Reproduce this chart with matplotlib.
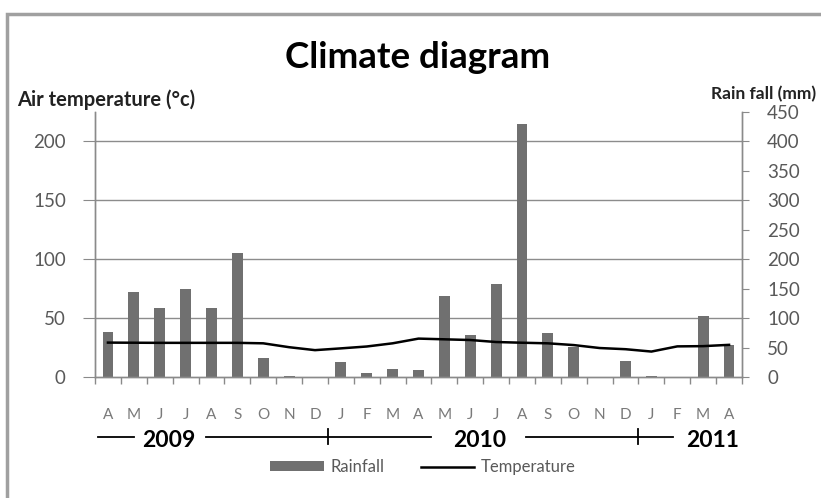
import matplotlib
matplotlib.use("Agg")
import matplotlib.pyplot as plt
from matplotlib import font_manager
from matplotlib.transforms import blended_transform_factory
from matplotlib.patches import Rectangle

def pick(cands):
    names = {f.name for f in font_manager.fontManager.ttflist}
    for c in cands:
        if c in names:
            return c
    return "DejaVu Sans"

FONT = pick(["Lato", "Open Sans", "Noto Sans", "DejaVu Sans"])
plt.rcParams['font.family'] = [FONT, 'DejaVu Sans']

months = ["A", "M", "J", "J", "A", "S", "O", "N", "D", "J", "F", "M", "A",
          "M", "J", "J", "A", "S", "O", "N", "D", "J", "F", "M", "A"]
years = ["2009", "2010", "2011"]
rainfall_mm = [77, 144, 118, 149, 118, 210, 33, 1, 0, 26, 6, 13, 12,
               137, 72, 158, 430, 75, 51, 0, 28, 2, 0, 103, 55]
temperature_c = [29.2, 29.1, 29.0, 29.0, 29.0, 29.0, 28.6, 25.3, 22.8, 24.3, 25.9, 28.6, 32.6,
                 32.0, 31.4, 29.7, 29.1, 28.6, 27.1, 24.6, 23.6, 21.6, 26.0, 26.2, 27.3]

GRAY_TXT = "#595959"
MONTH_TXT = "#7a7a7a"
AX_GRAY = "#8a8a8a"

fig = plt.figure(figsize=(8.21, 4.98), dpi=100)
ax = fig.add_axes([95/821, 1-377/498, (742-95)/821, (377-112)/498])
ax2 = ax.twinx()

x = list(range(len(months)))
ax2.bar(x, rainfall_mm, width=0.42, color="#707070", zorder=2, label="Rainfall")
ax.plot(x, temperature_c, color="black", lw=1.8, zorder=5, label="Temperature")
ax.set_zorder(ax2.get_zorder() + 1)
ax.patch.set_visible(False)

ax.set_xlim(-0.5, len(months) - 0.5)
ax.set_ylim(0, 225)
ax2.set_ylim(0, 450)
ax.set_yticks([0, 50, 100, 150, 200])
ax2.set_yticks(range(0, 451, 50))
for v in [50, 100, 150, 200]:
    ax2.axhline(v * 2, color="#8c8c8c", lw=1, zorder=1)

ax.set_xticks(x)
ax.set_xticklabels(months)
ax.set_xticks([i + 0.5 for i in range(-1, len(months))], minor=True)
ax.tick_params(axis="x", which="major", length=0, pad=22, labelsize=11, labelcolor=MONTH_TXT)
ax.tick_params(axis="x", which="minor", length=5, color=AX_GRAY, width=1)
ax.tick_params(axis="y", length=9, color=AX_GRAY, labelsize=13.5, labelcolor=GRAY_TXT, pad=12)
ax2.tick_params(axis="y", length=5, color=AX_GRAY, labelsize=13.5, labelcolor=GRAY_TXT, pad=13)
ax2.tick_params(axis="x", length=0)

for a in (ax, ax2):
    a.spines["top"].set_visible(False)
    for s in ["left", "right", "bottom"]:
        a.spines[s].set_color(AX_GRAY)
        a.spines[s].set_linewidth(1)

# year annotation row
tr = blended_transform_factory(ax.transData, fig.transFigure)
yy = 1 - 437/498
for (x0, x1) in [(-0.38, 1.0), (3.79, 12.5), (16.14, 21.85)]:
    ax.plot([x0, x1], [yy, yy], color="black", lw=1.3, transform=tr, clip_on=False)
for xt in [8.5, 20.5]:
    ax.plot([xt, xt], [yy - 7/498, yy + 8/498], color="black", lw=1.3, transform=tr, clip_on=False)
for yr, xc in zip(years, [2.36, 14.36, 23.36]):
    ax.text(xc, 1 - 440/498, yr, transform=tr, ha="center", va="center", fontsize=16.5,
            fontweight="bold", color="black")

# titles
fig.text(418/821, 1-58/498, "Climate diagram", ha="center", va="center",
         fontsize=26.5, fontweight="bold", color="black")
fig.text(17/821, 1-100/498, "Air temperature (°c)", ha="left", va="center",
         fontsize=14.5, fontweight="bold", color="#222222")
fig.text(711/821, 1-94/498, "Rain fall (mm)", ha="left", va="center",
         fontsize=12.5, fontweight="bold", color="#222222")

# legend
h1, l1 = ax2.get_legend_handles_labels()
h2, l2 = ax.get_legend_handles_labels()
leg = fig.legend(h1 + h2, l1 + l2, loc="center", bbox_to_anchor=(423/821, 1-467/498),
                 ncol=2, frameon=False, fontsize=12, handlelength=3.2, handleheight=0.5,
                 columnspacing=2.2, handletextpad=0.4)
for t in leg.get_texts():
    t.set_color(GRAY_TXT)

# outer frame
fig.patches.append(Rectangle((7/821, -0.1), 1.2, 1 - 14/498 + 0.1, transform=fig.transFigure,
                             fill=False, edgecolor="#a0a0a0", lw=2.5))

fig.savefig("out.png", dpi=100)
